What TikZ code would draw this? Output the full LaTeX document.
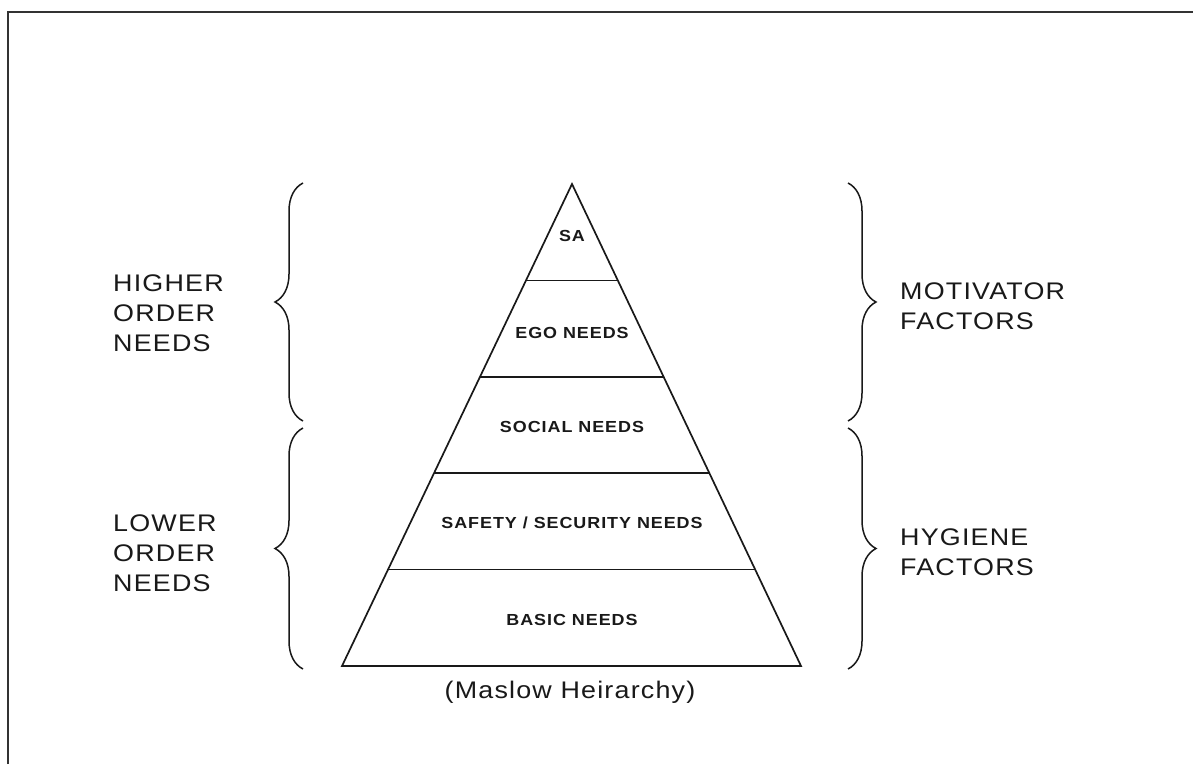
\documentclass[tikz,border=0pt]{standalone}
\usepackage{fontspec}
\setmainfont{Liberation Sans}[FakeStretch=1.12,LetterSpace=5]
\newfontfamily\levelfont{Liberation Sans}[FakeStretch=1.12,LetterSpace=6]
\usetikzlibrary{calc,decorations.pathreplacing}

\begin{document}
\begin{tikzpicture}[x=1pt,y=-1pt,
    frameline/.style={draw=black!80,line width=1.7pt},
    pyrline/.style={draw=black!90,line width=1.7pt,line join=miter},
    bracestyle/.style={draw=black!90,line width=1.5pt,decorate,
      decoration={brace,amplitude=28pt}},
    sidelabel/.style={anchor=west,align=left,inner sep=0pt,text=black!90,
      font=\fontsize{24}{30}\selectfont},
    levellabel/.style={inner sep=0pt,text=black!90,
      font=\levelfont\bfseries\fontsize{16}{18}\selectfont},
    caption/.style={anchor=base,inner sep=0pt,text=black!90,
      font=\fontsize{24}{30}\selectfont}]

  % page extent
  \useasboundingbox (0,0) rectangle (1193,764);
  \fill[white] (0,0) rectangle (1193,764);

  % outer frame (top and left edges)
  \coordinate (fbl) at (8,764);
  \coordinate (ftl) at (8,12);
  \coordinate (ftr) at (1193,12);
  \draw[frameline] (fbl) -- (ftl) -- (ftr);

  % pyramid outline
  \coordinate (apex) at (572,184);
  \coordinate (bl) at (342,666);
  \coordinate (br) at (801,666);
  \draw[pyrline] (apex) -- (bl) -- (br) -- cycle;

  % level dividers
  \foreach \t/\n in {0.2/a,0.4/b,0.6/c,0.8/d}{
    \coordinate (L\n) at ($(bl)!\t!(apex)$);
    \coordinate (R\n) at ($(br)!\t!(apex)$);
    \draw[pyrline] (L\n) -- (R\n);
  }

  % level labels
  \node[levellabel] (sa)     at (572,236) {SA};
  \node[levellabel] (ego)    at (572,333) {EGO NEEDS};
  \node[levellabel] (social) at (572,427) {SOCIAL NEEDS};
  \node[levellabel] (safety) at (572,523) {SAFETY / SECURITY NEEDS};
  \node[levellabel] (basic)  at (572,620) {BASIC NEEDS};

  % caption
  \node[caption] (cap) at (570,698) {(Maslow Heirarchy)};

  % left braces
  \coordinate (lut) at (303,183);
  \coordinate (lub) at (303,421);
  \coordinate (llt) at (303,428);
  \coordinate (llb) at (303,669);
  \draw[bracestyle] (lub) -- (lut);
  \draw[bracestyle] (llb) -- (llt);

  % right braces
  \coordinate (rut) at (848,183);
  \coordinate (rub) at (848,421);
  \coordinate (rlt) at (848,428);
  \coordinate (rlb) at (848,669);
  \draw[bracestyle] (rut) -- (rub);
  \draw[bracestyle] (rlt) -- (rlb);

  % side labels
  \node[sidelabel] (higher) at (113,313) {HIGHER\\ORDER\\NEEDS};
  \node[sidelabel] (lower)  at (113,553) {LOWER\\ORDER\\NEEDS};
  \node[sidelabel] (motiv)  at (900,306) {MOTIVATOR\\FACTORS};
  \node[sidelabel] (hyg)    at (900,552) {HYGIENE\\FACTORS};
\end{tikzpicture}
\end{document}
